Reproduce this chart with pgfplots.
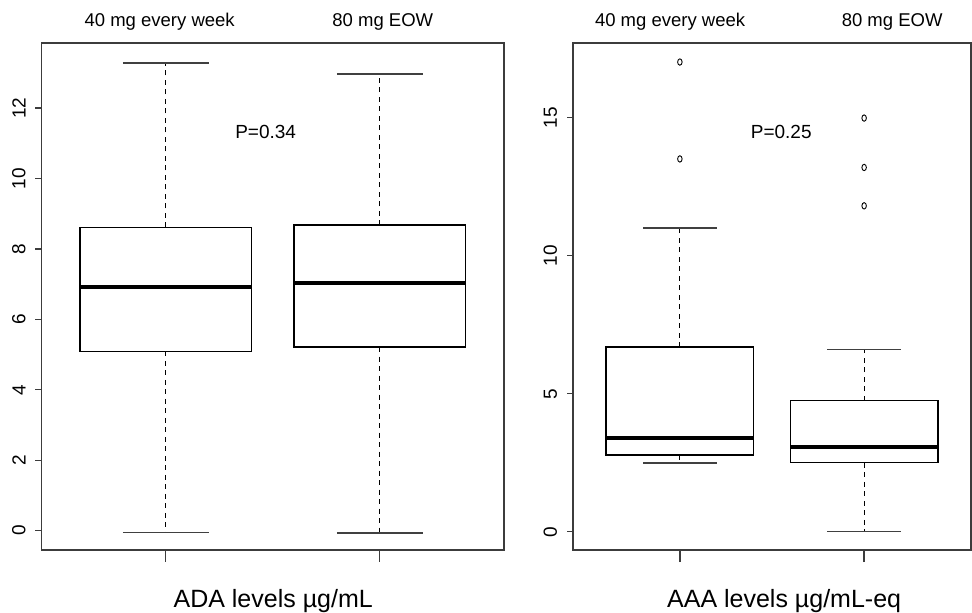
\documentclass[border=0pt]{standalone}
\usepackage{fontspec}
\setmainfont{Liberation Sans}
\usepackage{pgfplots}
\pgfplotsset{compat=1.18}
\usepgfplotslibrary{statistics}
\definecolor{axisgray}{HTML}{3C3C3C}
\newcommand\toplab{\fontsize{18.5bp}{22bp}\selectfont}
\newcommand\plab{\fontsize{19bp}{22bp}\selectfont}
\newcommand\botlab{\fontsize{25bp}{28bp}\selectfont}
\newcommand\ticklab{\fontsize{19bp}{22bp}\selectfont}
\pgfplotsset{
  rpanel/.style={
    scale only axis, height=507bp,
    xmin=0.42, xmax=2.58,
    axis line style={draw=axisgray, line width=1.3bp},
    xtick={1,2}, xticklabels={},
    tick align=outside,
    xtick pos=bottom, ytick pos=left,
    x tick style={draw=axisgray, line width=1.3bp, /pgfplots/major tick length=12bp},
    y tick style={draw=axisgray, line width=1.3bp, /pgfplots/major tick length=6bp},
    yticklabel style={rotate=90, anchor=south, inner sep=11.5bp, font=\ticklab},
    /pgf/number format/assume math mode=true,
    minor tick num=0,
    clip=false,
  },
  rbox/.style={
    black, line width=1.4bp, solid, mark=o,
    mark options={solid, line width=0.9bp, xscale=0.7, black},
    mark size=3.2bp,
    boxplot/draw direction=y,
    boxplot/box extend=0.8,
    boxplot/whisker extend=0.4,
    boxplot/every median/.style={line width=4bp},
    boxplot/draw/lower whisker/.code={%
      \draw[line width=1.2bp, dash pattern=on 5bp off 4.5bp]
        (boxplot box cs:\pgfplotsboxplotvalue{lower quartile},0.5) --
        (boxplot box cs:\pgfplotsboxplotvalue{lower whisker},0.5);
      \draw[line width=1.3bp, black!75]
        (boxplot whisker cs:\pgfplotsboxplotvalue{lower whisker},0) --
        (boxplot whisker cs:\pgfplotsboxplotvalue{lower whisker},1);
    },
    boxplot/draw/upper whisker/.code={%
      \draw[line width=1.2bp, dash pattern=on 5bp off 4.5bp]
        (boxplot box cs:\pgfplotsboxplotvalue{upper quartile},0.5) --
        (boxplot box cs:\pgfplotsboxplotvalue{upper whisker},0.5);
      \draw[line width=1.3bp, black!75]
        (boxplot whisker cs:\pgfplotsboxplotvalue{upper whisker},0) --
        (boxplot whisker cs:\pgfplotsboxplotvalue{upper whisker},1);
    },
  },
}
\begin{document}
\begin{tikzpicture}
% ---------------- left panel: ADA ----------------
\begin{axis}[rpanel, at={(41.5bp,63bp)}, anchor=south west,
  width=462.5bp, ymin=-0.55, ymax=13.85, ytick={0,2,...,12}]
\addplot[rbox, boxplot prepared={draw position=1,
  lower whisker=-0.05, lower quartile=5.09, median=6.91,
  upper quartile=8.61, upper whisker=13.28}] coordinates {};
\addplot[rbox, boxplot prepared={draw position=2,
  lower whisker=-0.07, lower quartile=5.21, median=7.04,
  upper quartile=8.68, upper whisker=12.97}] coordinates {};
\node[font=\toplab] at (axis cs:0.972,14.45) {40 mg every week};
\node[font=\toplab] at (axis cs:2.014,14.45) {80 mg EOW};
\node[font=\plab] at (axis cs:1.467,11.32) {P=0.34};
\node[font=\botlab, anchor=base] at (axis cs:1.502,-2.173) {ADA levels µg/mL};
\end{axis}
% ---------------- right panel: AAA ----------------
\begin{axis}[rpanel, at={(573bp,63bp)}, anchor=south west,
  width=398bp, ymin=-0.66, ymax=17.71, ytick={0,5,10,15}]
\addplot[rbox, boxplot prepared={draw position=1,
  lower whisker=2.49, lower quartile=2.78, median=3.41,
  upper quartile=6.69, upper whisker=11.01}]
  table[row sep=\\, y index=0] {17.02\\ 13.51\\};
\addplot[rbox, boxplot prepared={draw position=2,
  lower whisker=0.0, lower quartile=2.50, median=3.06,
  upper quartile=4.75, upper whisker=6.61}]
  table[row sep=\\, y index=0] {14.99\\ 13.20\\ 11.81\\};
\node[font=\toplab] at (axis cs:0.947,18.48) {40 mg every week};
\node[font=\toplab] at (axis cs:2.152,18.48) {80 mg EOW};
\node[font=\plab] at (axis cs:1.55,14.49) {P=0.25};
\node[font=\botlab, anchor=base] at (axis cs:1.566,-2.73) {AAA levels µg/mL-eq};
\end{axis}
\pgfresetboundingbox
\path[use as bounding box] (0,0) rectangle (972bp,613bp);
\end{tikzpicture}
\end{document}
